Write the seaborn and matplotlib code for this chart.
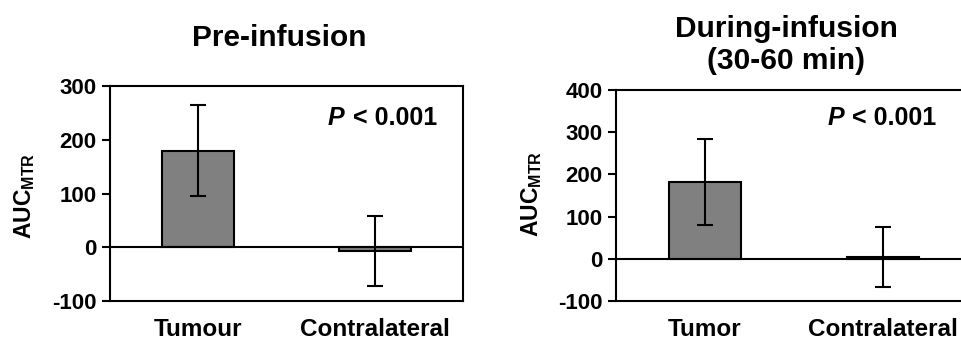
import matplotlib
matplotlib.use("Agg")
import matplotlib.pyplot as plt
import seaborn as sns
import pandas as pd

# ---- data ----
pre_categories = ["Tumour", "Contralateral"]
pre_means = [180, -7]
pre_errors = [84, 66]
pre_yticks = [-100, 0, 100, 200, 300]

dur_categories = ["Tumor", "Contralateral"]
dur_means = [183, 4]
dur_errors = [102, 71]
dur_yticks = [-100, 0, 100, 200, 300, 400]

titles = ["Pre-infusion", "During-infusion\n(30-60 min)"]
p_text = "< 0.001"

sns.set_theme(style="white")
plt.rcParams["font.family"] = ["Liberation Sans", "DejaVu Sans"]
plt.rcParams["font.weight"] = "bold"
plt.rcParams["text.color"] = "black"
plt.rcParams["axes.labelcolor"] = "black"
plt.rcParams["xtick.color"] = "black"
plt.rcParams["ytick.color"] = "black"
plt.rcParams["mathtext.fontset"] = "custom"
plt.rcParams["mathtext.rm"] = "Liberation Sans"
plt.rcParams["mathtext.bf"] = "Liberation Sans:bold"
plt.rcParams["mathtext.it"] = "Liberation Sans:italic"

W, H = 961, 343
fig = plt.figure(figsize=(W / 100, H / 100), dpi=100)


def px_axes(l, t, r, b):
    return fig.add_axes([l / W, 1 - b / H, (r - l) / W, (b - t) / H])


def fx(x):
    return x / W


def fy(y):
    return 1 - y / H


panels = [
    dict(cats=pre_categories, means=pre_means, errs=pre_errors, yticks=pre_yticks,
         box=(110, 86, 463, 301), title=titles[0], title_x=279, title_base=46,
         ylab=(25, 196), p_left=328, p_right=437, p_base=125),
    dict(cats=dur_categories, means=dur_means, errs=dur_errors, yticks=dur_yticks,
         box=(616, 90, 972, 301), title=titles[1], title_x=786, title_base=69,
         ylab=(532, 194), p_left=828, p_right=936, p_base=125),
]

for p in panels:
    ax = px_axes(*p["box"])
    df = pd.DataFrame({"cat": p["cats"], "val": p["means"]})
    sns.barplot(data=df, x="cat", y="val", order=p["cats"], color="#808080",
                saturation=1, width=0.41, edgecolor="black", linewidth=1.5,
                errorbar=None, ax=ax, zorder=2)
    ax.errorbar(range(len(p["cats"])), p["means"], yerr=p["errs"], fmt="none",
                ecolor="black", elinewidth=1.5, capsize=5.5, capthick=1.5, zorder=4)
    ax.axhline(0, color="black", lw=1.5, zorder=3)
    ax.set_xlim(-0.5, 1.5)
    ax.set_ylim(p["yticks"][0], p["yticks"][-1])
    ax.set_yticks(p["yticks"])
    ax.set_yticklabels([str(v) for v in p["yticks"]], fontsize=16, fontweight="bold")
    ax.set_xticklabels(p["cats"], fontsize=17.5, fontweight="bold")
    ax.set_xlabel("")
    ax.set_ylabel("")
    ax.tick_params(axis="y", direction="out", length=5.8, width=1.5, pad=4,
                   left=True, colors="black")
    ax.tick_params(axis="x", length=0, pad=12, colors="black")
    for s in ax.spines.values():
        s.set_visible(True)
        s.set_color("black")
        s.set_linewidth(1.5)
    ax.set_facecolor("white")
    ax.grid(False)

    fig.text(fx(p["title_x"]), fy(p["title_base"]), p["title"], ha="center",
             va="baseline", fontsize=21.5, fontweight="bold", linespacing=1.17,
             multialignment="center", color="black")
    fig.text(fx(p["ylab"][0]), fy(p["ylab"][1]), r"$\mathbf{AUC}_{\mathbf{MTR}}$",
             rotation=90, ha="center", va="center", fontsize=16.5, color="black")
    fig.text(fx(p["p_left"]), fy(p["p_base"]), "P", ha="left", va="baseline",
             fontsize=18, fontweight="bold", fontstyle="italic", color="black")
    fig.text(fx(p["p_right"]), fy(p["p_base"]), p_text, ha="right", va="baseline",
             fontsize=18, fontweight="bold", color="black")

fig.savefig("out.png", dpi=100, facecolor="white")
